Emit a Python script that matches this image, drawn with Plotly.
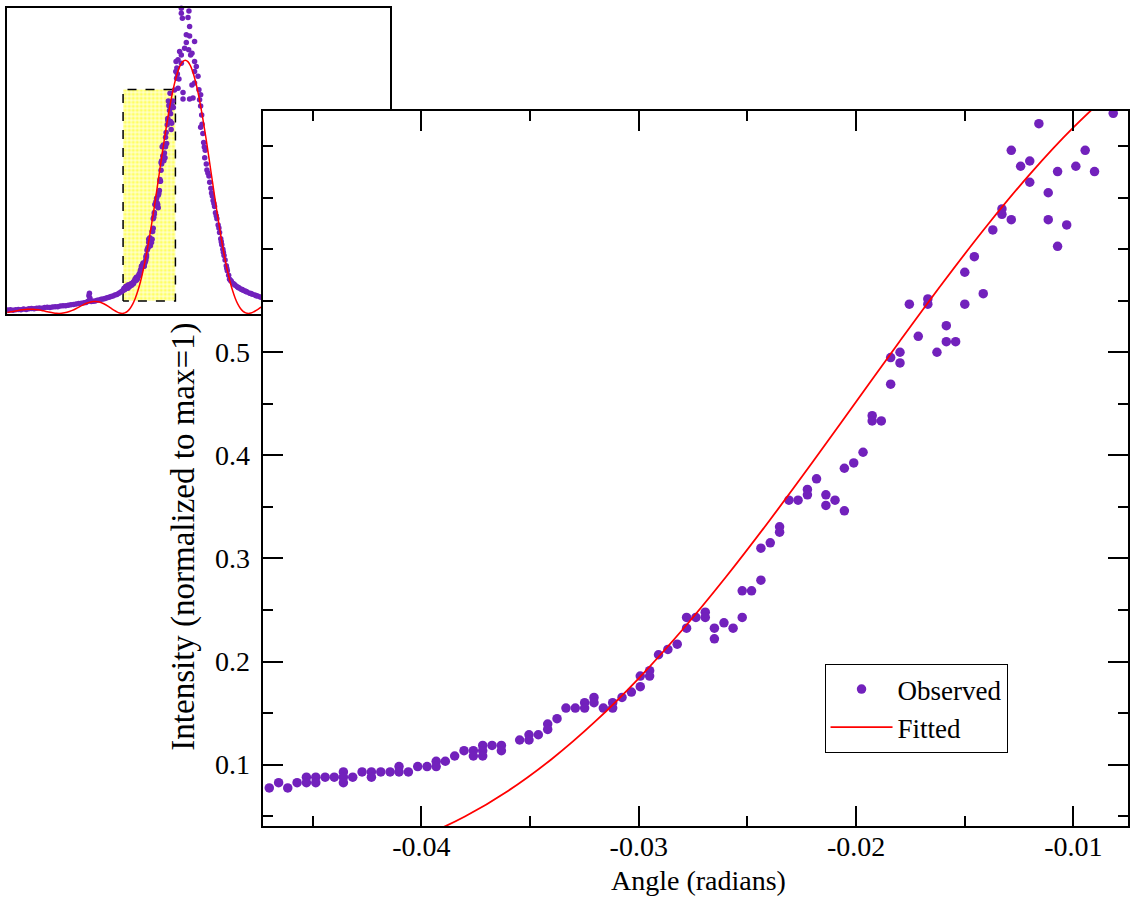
import plotly.graph_objects as go

# ---------------- data ----------------
# Observed, left tail (only visible in the inset)
tail_x = [-0.1350, -0.1330, -0.1310, -0.1290, -0.1270, -0.1250, -0.1230, -0.1210, -0.1190, -0.1170,
          -0.1150, -0.1130, -0.1110, -0.1090, -0.1070, -0.1050, -0.1030, -0.1010, -0.0990, -0.0970,
          -0.0950, -0.0930, -0.0910, -0.0890, -0.0870, -0.0850, -0.0830, -0.0810, -0.0790, -0.0770,
          -0.0755, -0.0740, -0.0733, -0.0729, -0.0725, -0.0715, -0.0700, -0.0685, -0.0670, -0.0655,
          -0.0640, -0.0625, -0.0610, -0.0595, -0.0580, -0.0565, -0.0550, -0.0535, -0.0520, -0.0505,
          -0.0490, -0.0478]
tail_y = [0.011, 0.012, 0.010, 0.012, 0.013, 0.012, 0.014, 0.013, 0.015, 0.016,
          0.015, 0.017, 0.018, 0.017, 0.019, 0.020, 0.019, 0.021, 0.022, 0.022,
          0.024, 0.025, 0.025, 0.027, 0.028, 0.029, 0.031, 0.032, 0.033, 0.035,
          0.036, 0.040, 0.058, 0.066, 0.050, 0.039, 0.040, 0.041, 0.043, 0.044,
          0.046, 0.047, 0.049, 0.051, 0.053, 0.055, 0.057, 0.060, 0.062, 0.066,
          0.070, 0.073]

# Observed, zoomed window (main plot)
main_x = [-0.04700, -0.04657, -0.04615, -0.04572, -0.04529, -0.04529, -0.04486, -0.04486, -0.04443, -0.04401,
          -0.04359, -0.04359, -0.04359, -0.04316, -0.04273, -0.04230, -0.04230, -0.04187, -0.04144, -0.04103,
          -0.04103, -0.04060, -0.04017, -0.03974, -0.03932, -0.03932, -0.03890, -0.03847, -0.03804, -0.03761,
          -0.03761, -0.03718, -0.03718, -0.03718, -0.03675, -0.03632, -0.03632, -0.03548, -0.03505, -0.03505,
          -0.03462, -0.03419, -0.03419, -0.03376, -0.03335, -0.03292, -0.03249, -0.03249, -0.03206, -0.03206,
          -0.03163, -0.03120, -0.03120, -0.03077, -0.03034, -0.02993, -0.02993, -0.02950, -0.02950, -0.02909,
          -0.02866, -0.02823, -0.02780, -0.02780, -0.02737, -0.02694, -0.02694, -0.02652, -0.02652, -0.02608,
          -0.02566, -0.02524, -0.02524, -0.02481, -0.02438, -0.02438, -0.02395, -0.02352, -0.02352, -0.02309,
          -0.02267, -0.02224, -0.02224, -0.02182, -0.02139, -0.02139, -0.02097, -0.02054, -0.02054, -0.02011,
          -0.01968, -0.01926, -0.01926, -0.01884, -0.01841, -0.01841, -0.01798, -0.01798, -0.01755, -0.01714,
          -0.01670, -0.01670, -0.01628, -0.01585, -0.01585, -0.01542, -0.01500, -0.01500, -0.01456, -0.01415,
          -0.01371, -0.01329, -0.01329, -0.01286, -0.01286, -0.01243, -0.01201, -0.01201, -0.01159, -0.01116,
          -0.01116, -0.01073, -0.01073, -0.01031, -0.00989, -0.00946, -0.00903, -0.00817]
main_y = [0.0774, 0.0825, 0.0774, 0.0825, 0.0878, 0.0825, 0.0878, 0.0825, 0.0878, 0.0878,
          0.0929, 0.0878, 0.0825, 0.0878, 0.0929, 0.0929, 0.0878, 0.0929, 0.0929, 0.0981,
          0.0929, 0.0929, 0.0981, 0.0981, 0.1033, 0.0981, 0.1033, 0.1084, 0.1136, 0.1136,
          0.1084, 0.1187, 0.1136, 0.1084, 0.1187, 0.1187, 0.1136, 0.1239, 0.1290, 0.1239,
          0.1290, 0.1394, 0.1342, 0.1446, 0.1549, 0.1549, 0.1601, 0.1549, 0.1652, 0.1601,
          0.1549, 0.1601, 0.1549, 0.1652, 0.1704, 0.1859, 0.1756, 0.1911, 0.1859, 0.2066,
          0.2118, 0.2169, 0.2428, 0.2324, 0.2428, 0.2479, 0.2428, 0.2324, 0.2221, 0.2376,
          0.2324, 0.2686, 0.2428, 0.2686, 0.3100, 0.2789, 0.3152, 0.3307, 0.3255, 0.3565,
          0.3565, 0.3669, 0.3617, 0.3772, 0.3617, 0.3514, 0.3565, 0.3875, 0.3462, 0.3927,
          0.4030, 0.4385, 0.4334, 0.4334, 0.4948, 0.4690, 0.5000, 0.4896, 0.5466, 0.5155,
          0.5517, 0.5466, 0.5000, 0.5258, 0.5103, 0.5103, 0.5776, 0.5466, 0.5927, 0.5568,
          0.6186, 0.6390, 0.6338, 0.6959, 0.6286, 0.6804, 0.6855, 0.6649, 0.7217, 0.6547,
          0.6286, 0.6752, 0.6028, 0.6235, 0.6804, 0.6959, 0.6752, 0.7318]

# Observed, peak and right side (inset only)
peak_x = [-0.0072, -0.0070, -0.0066, -0.0064, -0.0060, -0.0055, -0.0055, -0.0048, -0.0043, -0.0030,
          -0.0030, -0.0030, -0.0030, -0.0022, -0.0017, -0.0017, -0.0005, 0.0008, 0.0008, 0.0021,
          0.0026, 0.0028, 0.0033, 0.0033, 0.0033, 0.0041, 0.0051, 0.0051, 0.0059, 0.0071,
          0.0071, 0.0071, 0.0071, 0.0084, 0.0097, 0.0104, 0.0109, 0.0117, 0.0117, 0.0125,
          0.0117, 0.0134, 0.0140, 0.0152, 0.0148, 0.0160, 0.0165, 0.0180, 0.0186, 0.0195,
          0.0206, 0.0212, 0.0223, 0.0230, 0.0241, 0.0250, 0.0261, 0.0270, 0.0278, 0.0286,
          0.0295, 0.0303, 0.0312, 0.0320, 0.0330, 0.0337, 0.0350, 0.0365, 0.0380, 0.0395,
          0.0410, 0.0425, 0.0440, 0.0455, 0.0470, 0.0490, 0.0510, 0.0530, 0.0550, 0.0570,
          0.0590, 0.0610, 0.0128, 0.0145, 0.0172, 0.0200, 0.0218, 0.0236, 0.0256, 0.0274,
          0.0290, 0.0316, 0.0345, 0.0373, 0.0403, 0.0433, 0.0462, 0.0500, 0.0540, 0.0580]
peak_y = [0.793, 0.826, 0.771, 0.804, 0.785, 0.831, 0.738, 0.768, 0.858, 1.000,
          0.984, 0.847, 0.820, 0.967, 0.724, 0.703, 0.869, 0.913, 0.888, 0.970,
          0.864, 0.991, 0.940, 0.909, 0.703, 0.847, 0.853, 0.749, 0.706, 0.891,
          0.826, 0.793, 0.755, 0.809, 0.777, 0.733, 0.700, 0.717, 0.680, 0.650,
          0.610, 0.590, 0.560, 0.535, 0.510, 0.490, 0.470, 0.450, 0.430, 0.410,
          0.385, 0.370, 0.350, 0.330, 0.310, 0.290, 0.265, 0.245, 0.225, 0.210,
          0.190, 0.175, 0.156, 0.140, 0.125, 0.112, 0.105, 0.098, 0.092, 0.087,
          0.083, 0.079, 0.076, 0.073, 0.070, 0.066, 0.063, 0.060, 0.057, 0.054,
          0.051, 0.048, 0.620, 0.545, 0.460, 0.395, 0.360, 0.320, 0.280, 0.235,
          0.200, 0.148, 0.108, 0.095, 0.085, 0.078, 0.072, 0.065, 0.058, 0.053]

obs_x = tail_x + main_x + peak_x
obs_y = tail_y + main_y + peak_y

# Fitted curve
fit_x = [-0.140, -0.136, -0.132, -0.128, -0.124, -0.120, -0.116, -0.112, -0.108, -0.104,
         -0.100, -0.098, -0.096, -0.094, -0.090, -0.086, -0.082, -0.078, -0.074, -0.070,
         -0.066, -0.062, -0.058, -0.056, -0.054, -0.052, -0.050, -0.048, -0.046, -0.044,
         -0.042, -0.040, -0.038, -0.036, -0.034, -0.032, -0.030, -0.028, -0.026, -0.024,
         -0.022, -0.020, -0.018, -0.016, -0.014, -0.012, -0.010, -0.008, -0.006, -0.004,
         -0.002, 0.000, 0.002, 0.004, 0.006, 0.008, 0.010, 0.012, 0.014, 0.016,
         0.018, 0.020, 0.022, 0.024, 0.026, 0.028, 0.030, 0.032, 0.034, 0.036,
         0.038, 0.040, 0.042, 0.044, 0.046, 0.048, 0.050, 0.052, 0.054, 0.056,
         0.058, 0.062, 0.066, 0.070, 0.074, 0.078, 0.082, 0.086, 0.090, 0.094,
         0.096, 0.098, 0.100, 0.104, 0.108, 0.112, 0.116, 0.120, 0.124, 0.128,
         0.132, 0.136, 0.140, 0.144, 0.148, 0.152, 0.156]
fit_y = [0.00066, 0.00262, 0.00556, 0.00887, 0.01176, 0.01346, 0.01344, 0.01159, 0.00831, 0.00448,
         0.00130, 0.00034, 0.00000, 0.00037, 0.00350, 0.00971, 0.01814, 0.02718, 0.03478, 0.03887,
         0.03797, 0.03173, 0.02134, 0.01545, 0.00973, 0.00480, 0.00132, 0.00000, 0.00156, 0.00670,
         0.01609, 0.03028, 0.04973, 0.07475, 0.10551, 0.14191, 0.18376, 0.23058, 0.28173, 0.33638,
         0.39350, 0.45196, 0.51043, 0.56765, 0.62221, 0.67278, 0.71805, 0.75687, 0.78821, 0.81122,
         0.82528, 0.83000, 0.82528, 0.81122, 0.78821, 0.75687, 0.71805, 0.67278, 0.62221, 0.56765,
         0.51043, 0.45196, 0.39350, 0.33638, 0.28173, 0.23058, 0.18376, 0.14191, 0.10551, 0.07475,
         0.04973, 0.03028, 0.01609, 0.00670, 0.00156, 0.00000, 0.00132, 0.00480, 0.00973, 0.01545,
         0.02134, 0.03173, 0.03797, 0.03887, 0.03478, 0.02718, 0.01814, 0.00971, 0.00350, 0.00037,
         0.00000, 0.00034, 0.00130, 0.00448, 0.00831, 0.01159, 0.01344, 0.01346, 0.01176, 0.00887,
         0.00556, 0.00262, 0.00066, 0.00000, 0.00059, 0.00210, 0.00399]

# axis ranges and tick labels
main_x_range = [-0.04731, -0.00749]
main_y_range = [0.0405, 0.734]
inset_x_range = [-0.1354, 0.156]
inset_y_range = [-0.003, 1.0]
x_tick_vals = [-0.04, -0.03, -0.02, -0.01]
x_tick_text = ["-0.04", "-0.03", "-0.02", "-0.01"]
y_tick_vals = [0.1, 0.2, 0.3, 0.4, 0.5]
y_tick_text = ["0.1", "0.2", "0.3", "0.4", "0.5"]

# ---------------- style ----------------
W, H = 1130, 900
PURPLE = "rgb(114,33,188)"
FONT = "Liberation Serif, Times New Roman, serif"
FS = 28

fig = go.Figure()

# zoom window marker on the inset (the main plot's range)
box_x = [main_x_range[0], main_x_range[0], main_x_range[1], main_x_range[1], main_x_range[0]]
box_y = [main_y_range[0], main_y_range[1], main_y_range[1], main_y_range[0], main_y_range[0]]
fig.add_trace(go.Scatter(
    x=box_x, y=box_y, xaxis="x", yaxis="y", mode="lines", fill="toself",
    fillcolor="rgba(255,255,0,0.0)",
    fillpattern=dict(shape=".", fgcolor="#ffff00", bgcolor="#ffffc8", size=4, solidity=0.5),
    line=dict(color="black", width=1.5, dash="dash"), showlegend=False, hoverinfo="skip"))

fig.add_trace(go.Scatter(
    x=obs_x, y=obs_y, xaxis="x", yaxis="y", mode="markers",
    marker=dict(color=PURPLE, size=5.5), showlegend=False, cliponaxis=False))
fig.add_trace(go.Scatter(
    x=fit_x, y=fit_y, xaxis="x", yaxis="y", mode="lines", line=dict(color="red", width=1.5, shape="spline"),
    showlegend=False))

# main plot
fig.add_trace(go.Scatter(
    x=obs_x, y=obs_y, xaxis="x2", yaxis="y2", mode="markers", name="Observed",
    marker=dict(color=PURPLE, size=9.5)))
fig.add_trace(go.Scatter(
    x=fit_x, y=fit_y, xaxis="x2", yaxis="y2", mode="lines", name="Fitted",
    line=dict(color="red", width=1.8, shape="spline")))

frame = dict(showline=True, linecolor="black", linewidth=2, showgrid=False, zeroline=False)

fig.update_layout(
    width=W, height=H,
    margin=dict(l=0, r=0, t=0, b=0),
    paper_bgcolor="white", plot_bgcolor="white",
    font=dict(family=FONT, size=FS, color="black"),
    xaxis=dict(domain=[7.3 / W, 391 / W], range=inset_x_range, anchor="y", mirror=True,
               ticks="", showticklabels=False, **frame),
    yaxis=dict(domain=[(H - 314.3) / H, (H - 8.3) / H], range=inset_y_range, anchor="x", mirror=True,
               ticks="", showticklabels=False, **frame),
    xaxis2=dict(domain=[263 / W, 1.0], range=main_x_range, anchor="y2", mirror="ticks",
                tickmode="array", tickvals=x_tick_vals, ticktext=x_tick_text,
                ticks="inside", ticklen=20, tickwidth=1.5, tickcolor="black",
                minor=dict(ticks="inside", ticklen=10, tickwidth=1.5, tickcolor="black", dtick=0.005, tick0=0),
                tickfont=dict(family=FONT, size=FS, color="black"), ticklabelstandoff=-6, **frame),
    yaxis2=dict(domain=[74 / H, 789 / H], range=main_y_range, anchor="x2", mirror="ticks",
                tickmode="array", tickvals=y_tick_vals, ticktext=y_tick_text,
                ticks="inside", ticklen=20, tickwidth=1.5, tickcolor="black",
                minor=dict(ticks="inside", ticklen=10, tickwidth=1.5, tickcolor="black", dtick=0.05, tick0=0),
                tickfont=dict(family=FONT, size=FS, color="black"), ticklabelstandoff=5, **frame),
    legend=dict(x=826 / W, y=(H - 664) / H, xanchor="left", yanchor="top",
                bgcolor="white", bordercolor="black", borderwidth=1,
                font=dict(family=FONT, size=27, color="black"), itemwidth=62,
                tracegroupgap=0),
    annotations=[
        dict(text="Angle (radians)", x=700 / W, y=(H - 880) / H, xref="paper", yref="paper",
             showarrow=False, xanchor="center", yanchor="middle", font=dict(family=FONT, size=FS)),
        dict(text="Intensity (normalized to max=1)", x=183 / W, y=(H - 537) / H, xref="paper", yref="paper",
             showarrow=False, xanchor="center", yanchor="middle", textangle=-90,
             font=dict(family=FONT, size=33)),
    ],
)

fig.write_html("out.html")
